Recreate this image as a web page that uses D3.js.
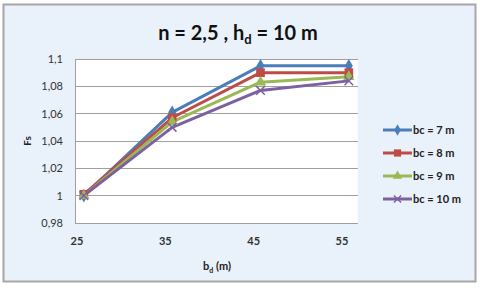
<!DOCTYPE html>
<html><head><meta charset="utf-8">
<script src="https://cdn.jsdelivr.net/npm/d3@7"></script>
<style>body{margin:0;background:#fff}svg{display:block}text{font-family:Lato,"Open Sans",sans-serif}</style>
</head><body>
<script>
const xValues = [26, 36, 46, 56];
const seriesNames = ["bc = 7 m", "bc = 8 m", "bc = 9 m", "bc = 10 m"];
const bc7 = [1.0, 1.061, 1.095, 1.095];
const bc8 = [1.001, 1.057, 1.090, 1.090];
const bc9 = [1.0, 1.054, 1.083, 1.087];
const bc10 = [1.0, 1.050, 1.077, 1.084];
const xTicks = [25, 35, 45, 55];
const yTicks = [0.98, 1.0, 1.02, 1.04, 1.06, 1.08, 1.1];
const colors = ["#4a7ebb", "#be4b48", "#98b954", "#7d60a0"];
const symbols = [d3.symbolDiamond, d3.symbolSquare, d3.symbolTriangle, d3.symbolCross];

const W = 480, H = 288;
const svg = d3.select("body").append("svg").attr("width", W).attr("height", H);
svg.append("rect").attr("x", 3.5).attr("y", 4.5).attr("width", 472).attr("height", 277)
  .attr("fill", "#e9f1fa").attr("stroke", "#a6a6a6").attr("stroke-width", 2);

const x = d3.scaleLinear().domain([25, 55]).range([75, 340]);
const y = d3.scaleLinear().domain([0.98, 1.1]).range([223, 59]);
const xRight = x(57);

svg.append("rect").attr("x", 75).attr("y", 59).attr("width", xRight - 75).attr("height", 164).attr("fill", "#fff");

svg.append("g").selectAll("line").data(yTicks).join("line")
  .attr("x1", 75).attr("x2", xRight).attr("y1", d => y(d)).attr("y2", d => y(d))
  .attr("stroke", "#a0a0a0").attr("stroke-width", 1).attr("shape-rendering", "crispEdges");

svg.append("line").attr("x1", 75).attr("x2", 75).attr("y1", 59).attr("y2", 223).attr("stroke", "#a0a0a0").attr("shape-rendering", "crispEdges");

const fmt = d => String(+d.toFixed(2)).replace(".", ",");
svg.append("g").selectAll("text").data(yTicks).join("text")
  .attr("x", 63).attr("y", d => y(d) + 4).attr("text-anchor", "end")
  .attr("font-size", 11).attr("fill", "#333").text(fmt);
svg.append("g").selectAll("text").data(xTicks).join("text")
  .attr("x", d => x(d) + 2).attr("y", 245).attr("text-anchor", "middle")
  .attr("font-size", 11).attr("fill", "#333").attr("font-weight", "bold").text(d => d);

const t = svg.append("text").attr("x", 238).attr("y", 40).attr("text-anchor", "middle")
  .attr("font-size", 20).attr("font-weight", "bold").attr("fill", "#111");
t.append("tspan").text("n = 2,5 , h");
t.append("tspan").attr("font-size", 13).attr("dy", 4).text("d");
t.append("tspan").attr("dy", -4).text(" = 10 m");

const xt = svg.append("text").attr("x", 217).attr("y", 270).attr("text-anchor", "middle")
  .attr("font-size", 11).attr("font-weight", "bold").attr("fill", "#222");
xt.append("tspan").text("b");
xt.append("tspan").attr("font-size", 7).attr("dy", 3).text("d");
xt.append("tspan").attr("dy", -3).text(" (m)");

svg.append("text").attr("transform", "translate(31,141) rotate(-90)").attr("text-anchor", "middle")
  .attr("font-size", 10).attr("font-weight", "bold").attr("fill", "#222").text("Fs");

const series = [bc7, bc8, bc9, bc10];
const line = d3.line().x((d, i) => x(xValues[i])).y(d => y(d));
function marker(g, i, cx, cy, scale) {
  if (i === 3) {
    g.append("path").attr("d", d3.symbol(d3.symbolX, 50 * scale)()).attr("transform", `translate(${cx},${cy})`)
      .attr("stroke", colors[i]).attr("stroke-width", 1.5).attr("fill", "none");
  } else {
    const size = (i === 1 ? 75 : 55) * scale;
    g.append("path").attr("d", d3.symbol(symbols[i], size)()).attr("transform", `translate(${cx},${cy})`)
      .attr("fill", colors[i]);
  }
}
series.forEach((s, i) => {
  svg.append("path").datum(s).attr("d", line).attr("fill", "none")
    .attr("stroke", colors[i]).attr("stroke-width", 3).attr("stroke-linejoin", "round");
});
series.forEach((s, i) => {
  const g = svg.append("g");
  s.forEach((v, j) => marker(g, i, x(xValues[j]), y(v), 1));
});

const legY = [130, 153, 176, 199];
seriesNames.forEach((n, i) => {
  const g = svg.append("g");
  g.append("line").attr("x1", 383).attr("x2", 412).attr("y1", legY[i]).attr("y2", legY[i])
    .attr("stroke", colors[i]).attr("stroke-width", 3);
  marker(g, i, 397.5, legY[i], 0.7);
  g.append("text").attr("x", 413).attr("y", legY[i] + 4).attr("font-size", 11)
    .attr("font-weight", "bold").attr("fill", "#222").text(n);
});
</script>
</body></html>
